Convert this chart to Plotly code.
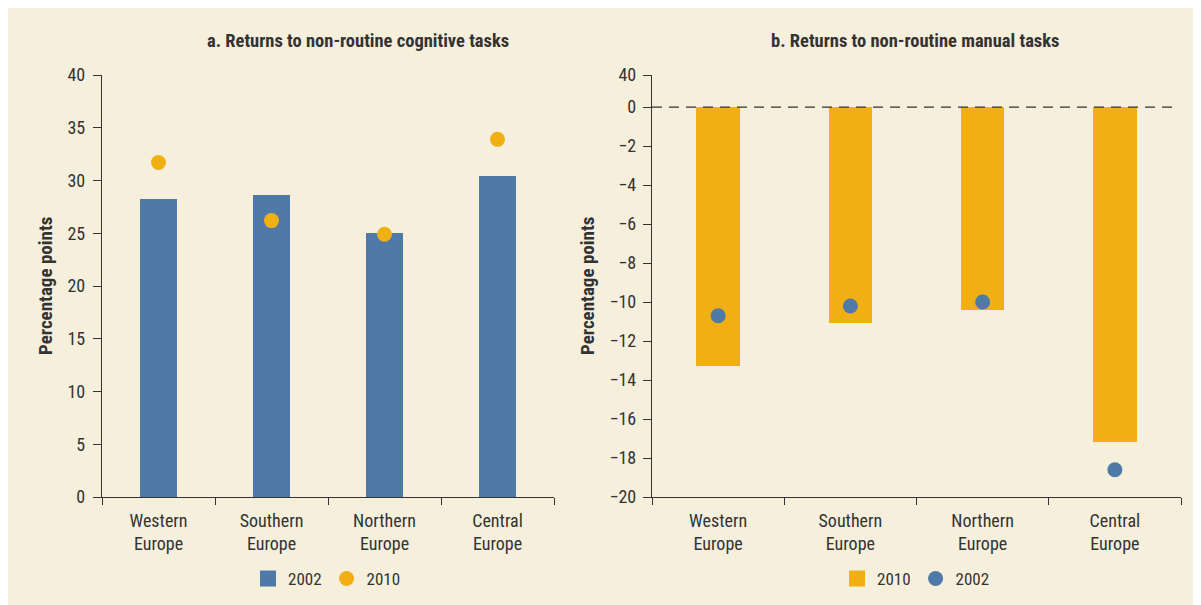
import plotly.graph_objects as go

categories = ["Western<br>Europe", "Southern<br>Europe", "Northern<br>Europe", "Central<br>Europe"]

# Panel a: returns to non-routine cognitive tasks
cog_2002 = [28.2, 28.6, 25.0, 30.4]
cog_2010 = [31.7, 26.2, 24.9, 33.9]

# Panel b: returns to non-routine manual tasks
man_2010 = [-13.3, -11.1, -10.4, -17.2]
man_2002 = [-10.7, -10.2, -10.0, -18.6]

left_ticks = [0, 5, 10, 15, 20, 25, 30, 35, 40]
right_ticks = [0, -2, -4, -6, -8, -10, -12, -14, -16, -18, -20]
right_break_label = "40"

BLUE = "#4f7aa8"
ORANGE = "#f0b013"
BG = "#f5efdc"
INK = "#333333"
FONT = "Liberation Sans Narrow, Roboto Condensed, DejaVu Sans Condensed, Arial Narrow, sans-serif"

W, H = 1201, 605
OFF = 8  # page body margin offset


def px(x):
    return (x - OFF) / W


def py(y):
    return 1 - (y - OFF) / H


fig = go.Figure()

# Panel a
fig.add_trace(go.Bar(x=categories, y=cog_2002, name="2002", marker=dict(color=BLUE, line=dict(width=0)),
                     width=0.32, xaxis="x", yaxis="y", showlegend=False))
fig.add_trace(go.Scatter(x=[None], y=[None], name="2002", mode="markers",
                         marker=dict(color=BLUE, size=16, symbol="square", line=dict(width=0)),
                         xaxis="x", yaxis="y", legend="legend"))
fig.add_trace(go.Scatter(x=categories, y=cog_2010, name="2010", mode="markers",
                         marker=dict(color=ORANGE, size=15, line=dict(width=0)),
                         xaxis="x", yaxis="y", legend="legend"))

# Panel b
fig.add_trace(go.Bar(x=categories, y=man_2010, name="2010", marker=dict(color=ORANGE, line=dict(width=0)),
                     width=0.33, xaxis="x2", yaxis="y2", showlegend=False))
fig.add_trace(go.Scatter(x=[None], y=[None], name="2010", mode="markers",
                         marker=dict(color=ORANGE, size=16, symbol="square", line=dict(width=0)),
                         xaxis="x2", yaxis="y2", legend="legend2"))
fig.add_trace(go.Scatter(x=categories, y=man_2002, name="2002", mode="markers",
                         marker=dict(color=BLUE, size=15, line=dict(width=0)),
                         xaxis="x2", yaxis="y2", legend="legend2"))

# Right axis: broken scale, "40" label sits just above 0
r_top = (107 - 75) / ((496 - 107) / 20)
r_tickvals = [r_top] + right_ticks
r_ticktext = [right_break_label] + [("\u2212" + str(-v)) if v < 0 else str(v) for v in right_ticks]

axis_common = dict(showline=True, linecolor=INK, linewidth=1.3, ticks="outside", tickcolor=INK,
                   tickwidth=1.3, showgrid=False, zeroline=False, automargin=False,
                   tickfont=dict(family=FONT, size=18, color=INK))

legend_common = dict(orientation="h", yanchor="middle", bgcolor="rgba(0,0,0,0)",
                     font=dict(family=FONT, size=17, color=INK), itemwidth=30,
                     tracegroupgap=0, itemsizing="trace")

fig.update_layout(
    width=W, height=H,
    margin=dict(l=0, r=0, t=0, b=0, autoexpand=False),
    paper_bgcolor="white",
    plot_bgcolor="rgba(0,0,0,0)",
    font=dict(family=FONT, color=INK, size=16),
    showlegend=True,
    xaxis=dict(domain=[px(102), px(554)], anchor="y", type="category", range=[-0.5, 3.5],
               tickson="boundaries", ticklen=7, ticklabelstandoff=7, **axis_common),
    yaxis=dict(domain=[py(497), py(75)], anchor="x", range=[0, 40], tickvals=left_ticks,
               ticklen=8, ticklabelstandoff=4, **axis_common),
    xaxis2=dict(domain=[px(652), px(1181)], anchor="y2", type="category", range=[-0.5, 3.5],
                tickson="boundaries", ticklen=7, ticklabelstandoff=7, **axis_common),
    yaxis2=dict(domain=[py(497), py(75)], anchor="x2", range=[-20, r_top], tickvals=r_tickvals,
                ticktext=r_ticktext, ticklen=8, ticklabelstandoff=3, **axis_common),
    legend=dict(x=px(327), xanchor="center", y=py(579), **legend_common),
    legend2=dict(x=px(916), xanchor="center", y=py(579), **legend_common),
    bargap=0,
)

# Background panel
fig.add_shape(type="rect", xref="paper", yref="paper", x0=0, x1=px(1197), y0=0, y1=1,
              fillcolor=BG, line=dict(width=0), layer="below")

# Dashed zero line on panel b
fig.add_shape(type="line", xref="x2 domain", yref="y2", x0=0, x1=(1175 - 652) / (1181 - 652), y0=0, y1=0,
              line=dict(color=INK, width=1.3, dash="10px,7px"), layer="above")

# Titles
fig.add_annotation(text="<b>a. Returns to non-routine cognitive tasks</b>", xref="paper", yref="paper",
                   x=px(358), y=py(41), showarrow=False, xanchor="center", yanchor="middle",
                   font=dict(family=FONT, size=18.5, color=INK))
fig.add_annotation(text="<b>b. Returns to non-routine manual tasks</b>", xref="paper", yref="paper",
                   x=px(915), y=py(41), showarrow=False, xanchor="center", yanchor="middle",
                   font=dict(family=FONT, size=18.5, color=INK))

# Y-axis titles
for xpos in (45, 587):
    fig.add_annotation(text="<b>Percentage points</b>", xref="paper", yref="paper",
                       x=px(xpos), y=py(286), showarrow=False, textangle=-90,
                       xanchor="center", yanchor="middle",
                       font=dict(family=FONT, size=19, color=INK))

fig.write_html("out.html")
